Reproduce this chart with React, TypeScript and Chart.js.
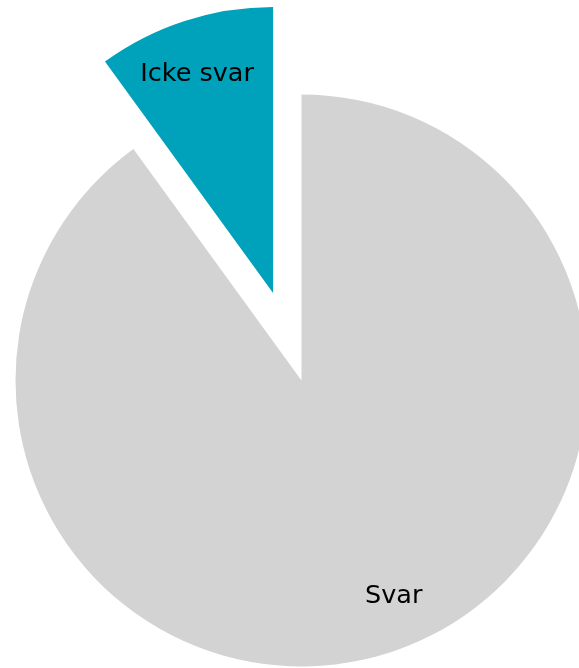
import React, { useEffect, useRef } from "react";
import { Chart, registerables } from "chart.js";

Chart.register(...registerables);

const categories = ["Svar", "Icke svar"];
const values = [90, 10];
const colors = ["#D3D3D3", "#00A1BA"];
const explode = [0, 92];

// Moves exploded slices outward along their bisector without resizing them
const explodePlugin = {
  id: "explodeSlices",
  afterDatasetsUpdate(chart: any) {
    const meta = chart.getDatasetMeta(0);
    meta.data.forEach((arc: any, i: number) => {
      const d = explode[i] || 0;
      if (!d) return;
      const mid = (arc.startAngle + arc.endAngle) / 2;
      arc.x += Math.cos(mid) * d;
      arc.y += Math.sin(mid) * d;
    });
  },
};

const labelAngleShift = [0.09, 0.02];
const labelRadius = [0.82, 0.81];

const labelPlugin = {
  id: "sliceLabels",
  afterDatasetsDraw(chart: any) {
    const ctx = chart.ctx;
    const meta = chart.getDatasetMeta(0);
    ctx.save();
    ctx.font = "25.5px 'DejaVu Sans', Verdana, sans-serif";
    ctx.fillStyle = "#000000";
    ctx.textAlign = "center";
    ctx.textBaseline = "middle";
    meta.data.forEach((arc: any, i: number) => {
      const mid = (arc.startAngle + arc.endAngle) / 2;
      const a = mid - labelAngleShift[i];
      const r = arc.outerRadius * labelRadius[i];
      const cx = arc.x + Math.cos(a) * r;
      const cy = arc.y + Math.sin(a) * r;
      ctx.fillText(categories[i], cx, cy);
    });
    ctx.restore();
  },
};

export default function App() {
  const ref = useRef<HTMLCanvasElement>(null);
  useEffect(() => {
    if (!ref.current) return;
    const chart = new Chart(ref.current, {
      type: "pie",
      data: {
        labels: categories,
        datasets: [
          {
            data: values,
            backgroundColor: colors,
            borderWidth: 0,
            offset: 0,
            hoverOffset: 0,
            clip: false as any,
          },
        ],
      },
      options: {
        responsive: false,
        animation: false,
        events: [],
        radius: 286,
        layout: { padding: { left: 24, top: 93, right: 0, bottom: 0 } },
        plugins: {
          legend: { display: false },
          tooltip: { enabled: false },
        },
      } as any,
      plugins: [explodePlugin, labelPlugin],
    });
    return () => chart.destroy();
  }, []);
  return (
    <div style={{ position: "absolute", left: 0, top: 0, width: 579, height: 668 }}>
      <canvas ref={ref} width={579} height={668} style={{ display: "block" }} />
    </div>
  );
}
